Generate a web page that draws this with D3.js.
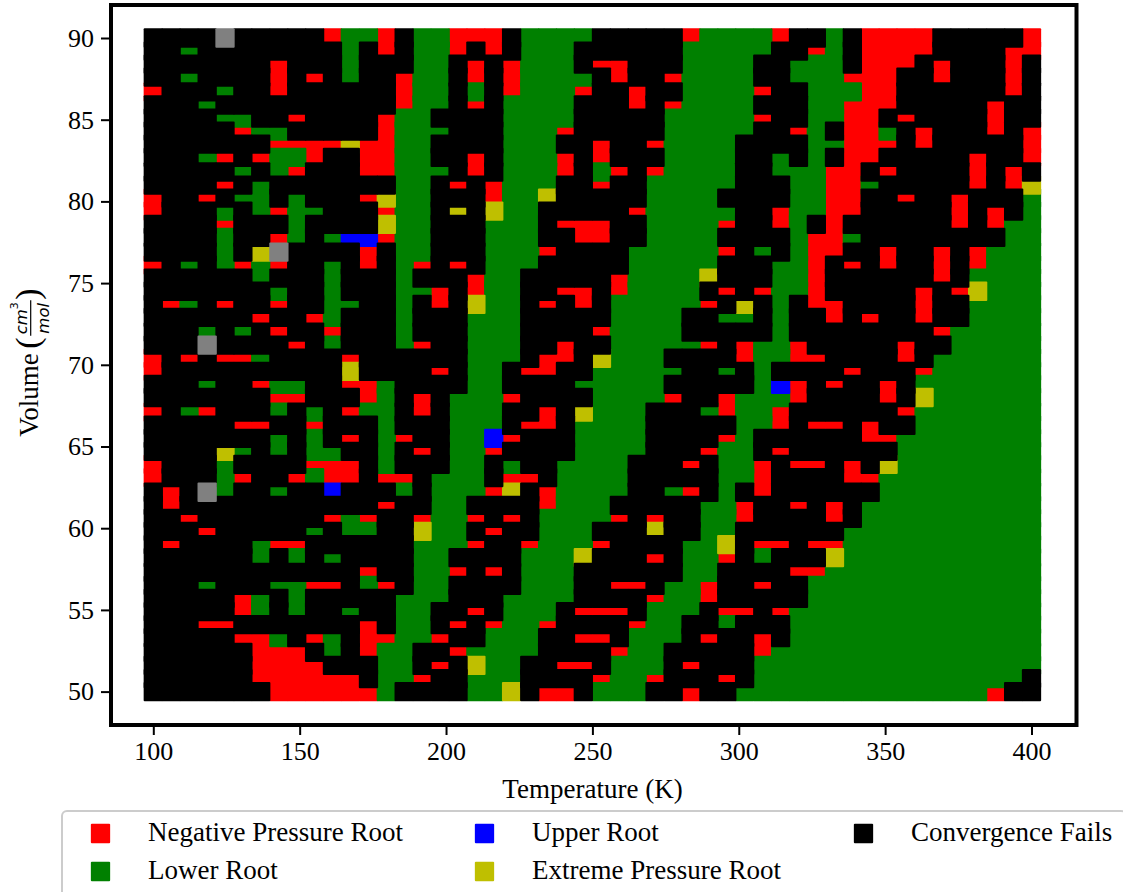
<!DOCTYPE html>
<html>
<head>
<meta charset="utf-8">
<script src="https://cdn.jsdelivr.net/npm/d3@7"></script>
<style>
  html, body { margin: 0; background: #fff; overflow: hidden; }
  svg { display: block; }
  text { font-family: "Liberation Serif", serif; fill: #000; }
</style>
</head>
<body>
<svg id="svg" width="1123" height="892"></svg>
<script>
const temperatures = [100,106.1,112.2,118.4,124.5,130.6,136.7,142.9,149,155.1,161.2,167.3,173.5,179.6,185.7,191.8,198,204.1,210.2,216.3,222.4,228.6,234.7,240.8,246.9,253.1,259.2,265.3,271.4,277.6,283.7,289.8,295.9,302,308.2,314.3,320.4,326.5,332.7,338.8,344.9,351,357.1,363.3,369.4,375.5,381.6,387.8,393.9,400];
const volumes = [90,89.2,88.4,87.6,86.7,85.9,85.1,84.3,83.5,82.7,81.8,81,80.2,79.4,78.6,77.8,76.9,76.1,75.3,74.5,73.7,72.9,72,71.2,70.4,69.6,68.8,68,67.1,66.3,65.5,64.7,63.9,63.1,62.2,61.4,60.6,59.8,59,58.2,57.3,56.5,55.7,54.9,54.1,53.3,52.4,51.6,50.8,50];
const xTicks = [100,150,200,250,300,350,400];
const yTicks = [50,55,60,65,70,75,80,85,90];

// one letter per temperature, one block per volume (top row = 90)
const leftBlock = ["kkkkakkkkkrggrkg","kkgkkkkkkkkgkrkg","kkkkkkkrkkkgkkkg","kkgkkkkrkrkgkkrg","rkkkgkkrkkkkkkrg","kkkgkkkkkkkkkkrg","kkkkggkkrkkkkrgg","kkkkkrggkkkkkrgg","kkkkkkkrrrryrrgg","kkkgrkrggrkkrrgg","kkkkkgkgrkkkrrgg","kkkkrkgkkkkkkkgg","rkkrkggkgkkkrygg","rkkkgkgrggkkkrgg","kkkkrkkkgkkkkygg","kkkkgkkrgkgbbrgg","kkkkgkyakkkkrkgg","rkgkgrgrkkgkrkgr","kkkkkkgkkkgkkkgk","kkkkkkkgkkgkkkgg","krgkrkkrkkggkkgk","kkkkkkrkkrgkkkgk","kkkgkgkrkkrkkkgk","kkkakkkkrkgkkkgr","rkrkrrgkkkkrkkkk","rkkkkkkkkkkykkkk","kkkgkkrggkkrrgkk","kkkkkkkrrkkkrgkr","rkgrkkkgkgkrggkr","kkkkkrrkkrkkkgkk","kkkkkkkgkgkrkgrk","kkkkygkgkggkkgkr","rkkkgkkkkrrrkgkk","rkkkgrkkrgrrkrrk","krkagkkgkkbkkkgk","krkkkkkkkkkkkrkk","kkrkkkkkkkrgrkkr","kkkrkkkkkgkggkky","krkkkkgrrkkkkkkg","kkkkkkgkgkgkkkkg","kkkkkkkkkkkkrkkg","kkkgkkkggrrkgrkg","kkkkkrgkgkkkkkgg","kkkkkrgkgkkgkkgg","kkkrrkkkkkkkrkgg","kkkkkrrgkrgkrrgg","kkkkkkrrrkgkrggk","kkkkkkrrrrkkkggk","kkkkkkrrrrrrkggr","kkkkkkkrrrrrrgkk"];
const midBlock = ["grrrkggggkkkkkrgg","grkrkgggkkkkkkggg","gkrkrgggkrrkkkggg","gkrkrggggkrkkrggg","gkgkrgggrkkrkkggg","gkrkggggkkkrkrggg","kkkkggggkkkkkgggg","gkkkgggrkkkkkgggg","kkkkgggkkrkkrgggg","kkrkgggrkrkkkgggg","gkrkgggrkgrkrgggg","krkrgggkkrkkggggg","kkkrggykkkkkggggk","kykyggkkkkkrggggg","kkkgggkrrrkkggggr","kkkgggkkrrkkggggk","kkkgggrkkkkgggggr","krkgggkkkkkgggggk","kkrggkkkkkrggggyk","rkrggkkrrkrggggkr","rkyggkrkrkgggggrk","kkgggkkkkkggggkkg","kkgggkkkkrggggkkk","kkgggkkrkkgggggrk","kkgggkrrkygggkkkk","rkggkrrkkgggggkkg","kkggkkkkgggggkkkk","kgggrkkkkggggrkkr","kgggkkrkygggkkkgr","kgggkrrkggggkkkkk","kggbrkkkggggkkkkr","kggrkkkkggggkkkrg","kggkgkkggggkkkrkg","gggkrrkggggkkkkkg","gggrykrggggkkgrkg","ggkkkkrgggkkkkkgg","ggrkrkggggrkrkkgg","ggkrkkgggkkkykkgg","ggrkkrgggrkkkkggy","gkkkkgggykkkrkggr","grkrkgggkkkkkkggk","gkkkkgggkkrrkggrk","gkkkggggkkkkrggrk","kkrkgggkrrrkgggkr","krkrggrkkkkrggkkg","rkkgggkkrrkgggkrk","krggggkkkkrggkkkk","rkyggkkrrkgggkrkk","kkgggkkkkrggrkkkr","kkggykrrkgggkkrkk"];
const rightBlock = ["ggrkkgkrrrrkkkkkr","ggkkrgkrrrrkkkkrr","gkkgggkrrrkrkkkrk","gkkgggrrrkkrkkkrk","grkkgggrrkkkkkkrk","gkkkggrrrkkkkkrkk","grkkggrrkrkkkkrkk","gkkrgkrrgkrkkkrkr","kkkkggrrrkrkkkkkr","kkgkgkrrkkkkkrkkr","kkgggrrkrkkkkrkrk","kkkggrrgkkkkkrkry","kkkggrrkkrkkrkkkg","kkrggrrkkkkkrkrkg","kkrgkrkkkkkkrkrgg","kkkgrrgkkkkkkkkgg","kgkgrrkkrkkrkrggg","kkggrkrkrkkrkrggg","kkggrkkkkkkrkgggg","krggrkkkkkrkryggg","ykgkrrkkkkrkkgggg","gkgkkrkrkkrkkgggg","kkgkkkkkkkkrggggg","rggrkkkkkrkkggggg","rggrrkkkkrkgggggg","kgkkkkrkkkrgggggg","kgbrkrkkrkggggggg","gggrkkkkrkygggggg","ggrkkkkkkrggggggg","ggrkrrkrkkggggggg","gkkkkkkrrgggggggg","gkrkkkkkkgggggggg","grkrrkrkygggggggg","grkkkkrrggggggggg","krkkkkkkggggggggg","rkkrkrkgggggggggg","rkkkkrkgggggggggg","kkkkkkggggggggggg","krrkrrggggggggggg","kgkkkyggggggggggg","kkkrrgggggggggggg","krkkggggggggggggg","kkkkggggggggggggg","rkrgggggggggggggg","kkkgggggggggggggg","krkgggggggggggggg","krggggggggggggggg","kgggggggggggggggg","kgggggggggggggggk","ggggggggggggggrkk"];

const categories = ["r", "g", "b", "y", "k", "a"];
const colors = { r: "#ff0000", g: "#008000", b: "#0000ff", y: "#bfbf00", k: "#000000", a: "#808080" };
const legendItems = [
  { key: "r", label: "Negative Pressure Root", col: 0, row: 0 },
  { key: "g", label: "Lower Root", col: 0, row: 1 },
  { key: "b", label: "Upper Root", col: 1, row: 0 },
  { key: "y", label: "Extreme Pressure Root", col: 1, row: 1 },
  { key: "k", label: "Convergence Fails", col: 2, row: 0 }
];

function chart() {
  const xScale = d3.scaleLinear().domain([100, 400]).range([153.3, 1031.5]);
  const yScale = d3.scaleLinear().domain([50, 90]).range([691.6, 38]);
  const marker = 19.3;

  const svg = d3.select("#svg");

  const cells = [];
  volumes.forEach((v, j) => {
    const row = leftBlock[j] + midBlock[j] + rightBlock[j];
    temperatures.forEach((t, i) => cells.push({ t, v, key: row[i] }));
  });

  // squares overlap, so the drawing order decides what shows
  categories.forEach(key => {
    svg.append("g").selectAll("rect")
      .data(cells.filter(d => d.key === key))
      .join("rect")
      .attr("x", d => xScale(d.t) - marker / 2)
      .attr("y", d => yScale(d.v) - marker / 2)
      .attr("width", marker)
      .attr("height", marker)
      .attr("rx", 1)
      .attr("fill", colors[key]);
  });

  svg.append("rect")
    .attr("x", 111).attr("y", 5)
    .attr("width", 965.5).attr("height", 720)
    .attr("fill", "none")
    .attr("stroke", "#000")
    .attr("stroke-width", 4);

  const xAxis = svg.append("g")
    .attr("transform", "translate(0,725)")
    .call(d3.axisBottom(xScale).tickValues(xTicks).tickSize(10).tickPadding(7).tickSizeOuter(0));
  const yAxis = svg.append("g")
    .attr("transform", "translate(111,0)")
    .call(d3.axisLeft(yScale).tickValues(yTicks).tickSize(10).tickPadding(7).tickSizeOuter(0));

  [xAxis, yAxis].forEach(axis => {
    axis.select(".domain").remove();
    axis.selectAll("line").attr("stroke", "#000").attr("stroke-width", 2);
    axis.selectAll("text").style("font-family", '"Liberation Serif", serif').style("font-size", "26px");
  });

  svg.append("text")
    .attr("x", 592.5).attr("y", 798)
    .attr("text-anchor", "middle")
    .style("font-size", "27px")
    .text("Temperature (K)");

  // y label, the fraction is put together by hand
  const yLabel = svg.append("g").attr("transform", "translate(38.3,436.7) rotate(-90)");
  yLabel.append("text").style("font-size", "27px").text("Volume");
  yLabel.append("text").attr("x", 88).attr("y", 1).style("font-size", "34px").text("(");
  yLabel.append("line")
    .attr("x1", 101).attr("x2", 136.5).attr("y1", -7.6).attr("y2", -7.6)
    .attr("stroke", "#000").attr("stroke-width", 1.2);
  const mathFont = '"DejaVu Sans", sans-serif';
  yLabel.append("text")
    .attr("x", 115).attr("y", -11.6)
    .attr("text-anchor", "middle")
    .style("font-family", mathFont).style("font-style", "oblique").style("font-size", "16.5px")
    .text("cm");
  yLabel.append("text")
    .attr("x", 131).attr("y", -20.5)
    .attr("text-anchor", "middle")
    .style("font-family", mathFont).style("font-size", "11px")
    .text("3");
  yLabel.append("text")
    .attr("x", 118.4).attr("y", 11)
    .attr("text-anchor", "middle")
    .style("font-family", mathFont).style("font-style", "oblique").style("font-size", "16.5px")
    .text("mol");
  yLabel.append("text").attr("x", 137).attr("y", 1).style("font-size", "34px").text(")");

  svg.append("rect")
    .attr("x", 62).attr("y", 811)
    .attr("width", 1064).attr("height", 120)
    .attr("rx", 5)
    .attr("fill", "#fff")
    .attr("stroke", "#ccc")
    .attr("stroke-width", 2);

  const legendX = d3.scaleOrdinal().domain([0, 1, 2]).range([100.5, 484.5, 863.5]);
  const legendY = d3.scaleOrdinal().domain([0, 1]).range([833.5, 871.5]);

  const legend = svg.append("g").selectAll("g")
    .data(legendItems)
    .join("g")
    .attr("transform", d => `translate(${legendX(d.col)},${legendY(d.row)})`);
  legend.append("rect")
    .attr("x", -marker / 2).attr("y", -marker / 2)
    .attr("width", marker).attr("height", marker)
    .attr("rx", 1)
    .attr("fill", d => colors[d.key]);
  legend.append("text")
    .attr("x", 47.5).attr("y", 7)
    .style("font-size", "27px")
    .text(d => d.label);
}

chart();
</script>
</body>
</html>
